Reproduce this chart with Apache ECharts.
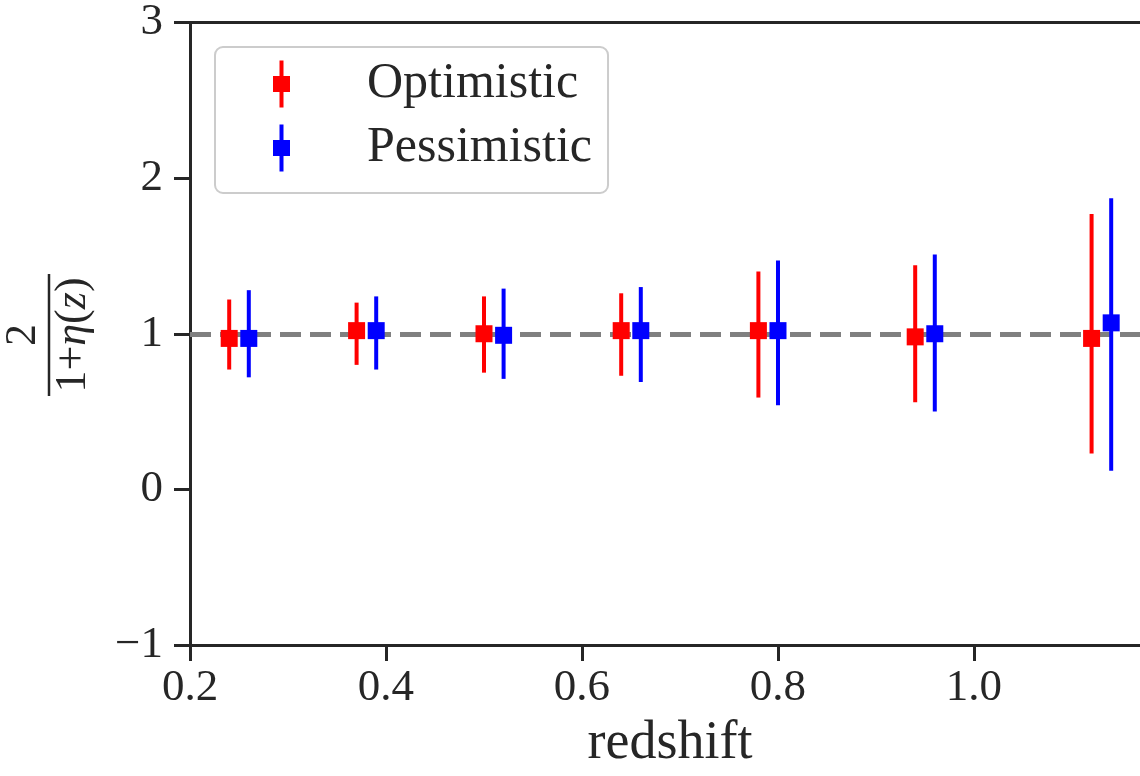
<!DOCTYPE html>
<html>
<head>
<meta charset="utf-8">
<script src="https://cdn.jsdelivr.net/npm/echarts@6/dist/echarts.min.js"></script>
<style>
html,body{margin:0;padding:0;background:#fff;overflow:hidden;}
#chart{width:1140px;height:776px;}
</style>
</head>
<body>
<div id="chart"></div>
<script>
// ---- data ----
var seriesNames = ['Optimistic', 'Pessimistic'];
var optZ    = [0.24, 0.37, 0.50, 0.64, 0.78, 0.94, 1.12];
var optVal  = [0.97, 1.02, 1.00, 1.02, 1.02, 0.98, 0.97];
var optLow  = [0.77, 0.80, 0.75, 0.73, 0.59, 0.56, 0.23];
var optHigh = [1.22, 1.20, 1.24, 1.26, 1.40, 1.44, 1.77];
var pesZ    = [0.26, 0.39, 0.52, 0.66, 0.80, 0.96, 1.14];
var pesVal  = [0.97, 1.02, 0.99, 1.02, 1.02, 1.00, 1.07];
var pesLow  = [0.72, 0.77, 0.71, 0.69, 0.54, 0.50, 0.12];
var pesHigh = [1.28, 1.24, 1.29, 1.30, 1.47, 1.51, 1.87];
var refValue = 1;
var xRange = [0.2, 1.1694];
var yRange = [-1, 3];
var xTickStep = 0.2;
var yTickStep = 1;
var xName = 'redshift';

var FONT = 'Liberation Serif';
var INK = '#262626';
var RED = '#ff0000';
var BLUE = '#0000ff';

function zip(a, b) { return a.map(function (v, i) { return [v, b[i]]; }); }
function zip3(a, b, c) { return a.map(function (v, i) { return [v, b[i], c[i]]; }); }

function errRender(color) {
  return function (params, api) {
    var p1 = api.coord([api.value(0), api.value(1)]);
    var p2 = api.coord([api.value(0), api.value(2)]);
    return {
      type: 'line',
      shape: { x1: p1[0], y1: p1[1], x2: p2[0], y2: p2[1] },
      style: { stroke: color, lineWidth: 4, lineCap: 'butt' }
    };
  };
}

var legendIcon = 'path://M6.5,0 H10.5 V15.5 H17 V31.5 H10.5 V47 H6.5 V31.5 H0 V15.5 H6.5 Z';

var chart = echarts.init(document.getElementById('chart'), null, { renderer: 'canvas', width: 1140, height: 776 });

var option = {
  animation: false,
  backgroundColor: '#ffffff',
  grid: { left: 190, right: 0, top: 22, bottom: 123, containLabel: false },
  xAxis: [{
    type: 'value', min: xRange[0], max: xRange[1], interval: xTickStep,
    position: 'bottom',
    name: xName, nameLocation: 'middle', nameGap: 72,
    nameTextStyle: { fontFamily: FONT, fontSize: 54, color: INK, padding: [0, 0, 0, 10] },
    axisLine: { show: true, onZero: false, lineStyle: { color: INK, width: 3 } },
    axisTick: { show: true, length: 16, lineStyle: { color: INK, width: 3 } },
    splitLine: { show: false },
    axisLabel: {
      fontFamily: FONT, fontSize: 45, color: INK, margin: 21, showMaxLabel: false,
      formatter: function (v) {
        var k = (v - xRange[0]) / xTickStep;
        return Math.abs(k - Math.round(k)) < 1e-6 ? v.toFixed(1) : '';
      }
    }
  }, {
    type: 'value', min: xRange[0], max: xRange[1], position: 'top',
    axisLine: { show: true, onZero: false, lineStyle: { color: INK, width: 3 } },
    axisTick: { show: false }, axisLabel: { show: false }, splitLine: { show: false }
  }],
  yAxis: {
    type: 'value', min: yRange[0], max: yRange[1], interval: yTickStep,
    axisLine: { show: true, onZero: false, lineStyle: { color: INK, width: 3 } },
    axisTick: { show: true, length: 16, lineStyle: { color: INK, width: 3 } },
    splitLine: { show: false },
    axisLabel: {
      fontFamily: FONT, fontSize: 45, color: INK, margin: 27,
      formatter: function (v) { return String(Math.round(v)).replace('-', '\u2212'); }
    }
  },
  legend: {
    data: [
      { name: seriesNames[0], icon: legendIcon, itemStyle: { color: RED } },
      { name: seriesNames[1], icon: legendIcon, itemStyle: { color: BLUE } }
    ],
    orient: 'vertical', left: 215, top: 47,
    itemWidth: 17, itemHeight: 47, itemGap: 14,
    padding: [12, 16, 20, 58],
    backgroundColor: '#ffffff', borderColor: '#cccccc', borderWidth: 2, borderRadius: 8,
    textStyle: { fontFamily: FONT, fontSize: 50, color: INK, padding: [0, 0, 0, 72] },
    selectedMode: false
  },
  series: [
    {
      name: 'ref', type: 'line', data: [], z: 1, silent: true,
      markLine: {
        z: 1, silent: true, symbol: ['none', 'none'], label: { show: false },
        lineStyle: { color: '#808080', width: 5, type: [21, 9] },
        data: [{ yAxis: refValue }]
      }
    },
    {
      name: seriesNames[0], type: 'custom', z: 2,
      renderItem: errRender(RED), data: zip3(optZ, optLow, optHigh),
      itemStyle: { color: RED }
    },
    {
      name: seriesNames[0], type: 'scatter', z: 3, symbol: 'rect', symbolSize: 17,
      itemStyle: { color: RED, opacity: 1 }, data: zip(optZ, optVal)
    },
    {
      name: seriesNames[1], type: 'custom', z: 4,
      renderItem: errRender(BLUE), data: zip3(pesZ, pesLow, pesHigh),
      itemStyle: { color: BLUE }
    },
    {
      name: seriesNames[1], type: 'scatter', z: 5, symbol: 'rect', symbolSize: 17,
      itemStyle: { color: BLUE, opacity: 1 }, data: zip(pesZ, pesVal)
    }
  ],
  graphic: [{
    type: 'group', x: 49, y: 335, rotation: Math.PI / 2,
    children: [
      { type: 'text', x: 0, y: -26,
        style: { text: '2', fontFamily: FONT, fontSize: 44, fill: INK, align: 'center', verticalAlign: 'middle' } },
      { type: 'line', shape: { x1: -61, y1: 0, x2: 61, y2: 0 }, style: { stroke: INK, lineWidth: 2.5 } },
      { type: 'text', x: 0, y: 24,
        style: {
          text: '{n|1+}{i|\u03b7}{n|(}{i|z}{n|)}', align: 'center', verticalAlign: 'middle',
          rich: {
            n: { fontFamily: FONT, fontSize: 44, fill: INK },
            i: { fontFamily: FONT, fontSize: 44, fill: INK, fontStyle: 'italic' }
          }
        } }
    ]
  }]
};
chart.setOption(option);
</script>
</body>
</html>
